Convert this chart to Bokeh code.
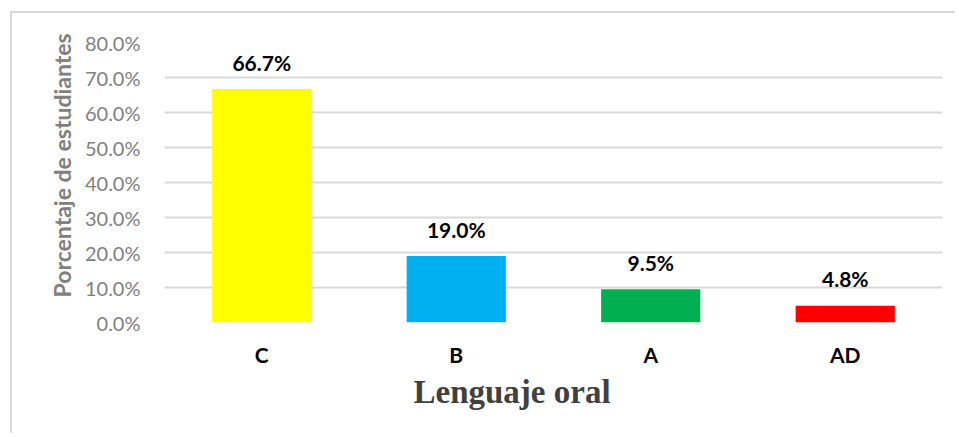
from bokeh.plotting import figure
from bokeh.models import (ColumnDataSource, Range1d, SingleIntervalTicker,
                          NumeralTickFormatter, Title)
from bokeh.core.properties import value
from bokeh.embed import file_html
from bokeh.resources import INLINE

# ---- data ----
categories = ["C", "B", "A", "AD"]
shares = [0.667, 0.190, 0.095, 0.048]
bar_colors = ["#FFFF00", "#00B0F0", "#00B050", "#FF0000"]
y_title = "Porcentaje de estudiantes"
x_title = "Lenguaje oral"

labels = [f"{v*100:.1f}%" for v in shares]
src = ColumnDataSource(dict(cat=categories, val=shares, col=bar_colors, lab=labels))

p = figure(x_range=categories, y_range=Range1d(0, 0.8),
           width=945, height=422, output_backend="svg", toolbar_location=None,
           min_border_left=152, min_border_right=15, min_border_top=29,
           min_border_bottom=113)
p.styles = {"margin-left": "10px", "margin-top": "11px",
            "border-left": "2px solid #d9d9d9", "border-top": "2px solid #d9d9d9"}
p.outline_line_color = None
p.background_fill_color = "white"
p.border_fill_color = "white"

p.vbar(x="cat", top="val", bottom=0, width=0.51, fill_color="col",
       line_color=None, source=src)

p.text(x="cat", y="val", text="lab", source=src, text_align="center",
       text_baseline="alphabetic", y_offset=-27,
       text_font=value("Lato"), text_font_style="bold",
       text_font_size="21px", text_color="black")

# y axis
p.yaxis.ticker = SingleIntervalTicker(interval=0.1, num_minor_ticks=0)
p.yaxis.formatter = NumeralTickFormatter(format="0.0%")
p.yaxis.axis_line_color = None
p.yaxis.major_tick_line_color = None
p.yaxis.minor_tick_line_color = None
p.yaxis.major_label_standoff = 18
p.yaxis.major_label_text_font = "Lato"
p.yaxis.major_label_text_font_size = "20px"
p.yaxis.major_label_text_color = "#808080"

# x axis
p.xaxis.axis_line_color = None
p.xaxis.major_tick_line_color = None
p.xaxis.minor_tick_line_color = None
p.xaxis.major_label_standoff = 13
p.xaxis.major_label_text_font = "Lato"
p.xaxis.major_label_text_font_style = "bold"
p.xaxis.major_label_text_font_size = "21px"
p.xaxis.major_label_text_color = "black"

# grid
p.xgrid.grid_line_color = None
p.ygrid.grid_line_color = "#d9d9d9"
p.ygrid.grid_line_width = 2

# titles
p.add_layout(Title(text=x_title, align="left", offset=249,
                   text_font="Liberation Serif", text_font_style="bold",
                   text_font_size="33px", text_color="#404040", standoff=5),
             "below")
p.add_layout(Title(text=y_title, align="left", offset=25,
                   text_font="Lato", text_font_style="bold",
                   text_font_size="23px", text_color="#808080", standoff=12),
             "left")

open("out.html", "w").write(file_html(p, INLINE))
